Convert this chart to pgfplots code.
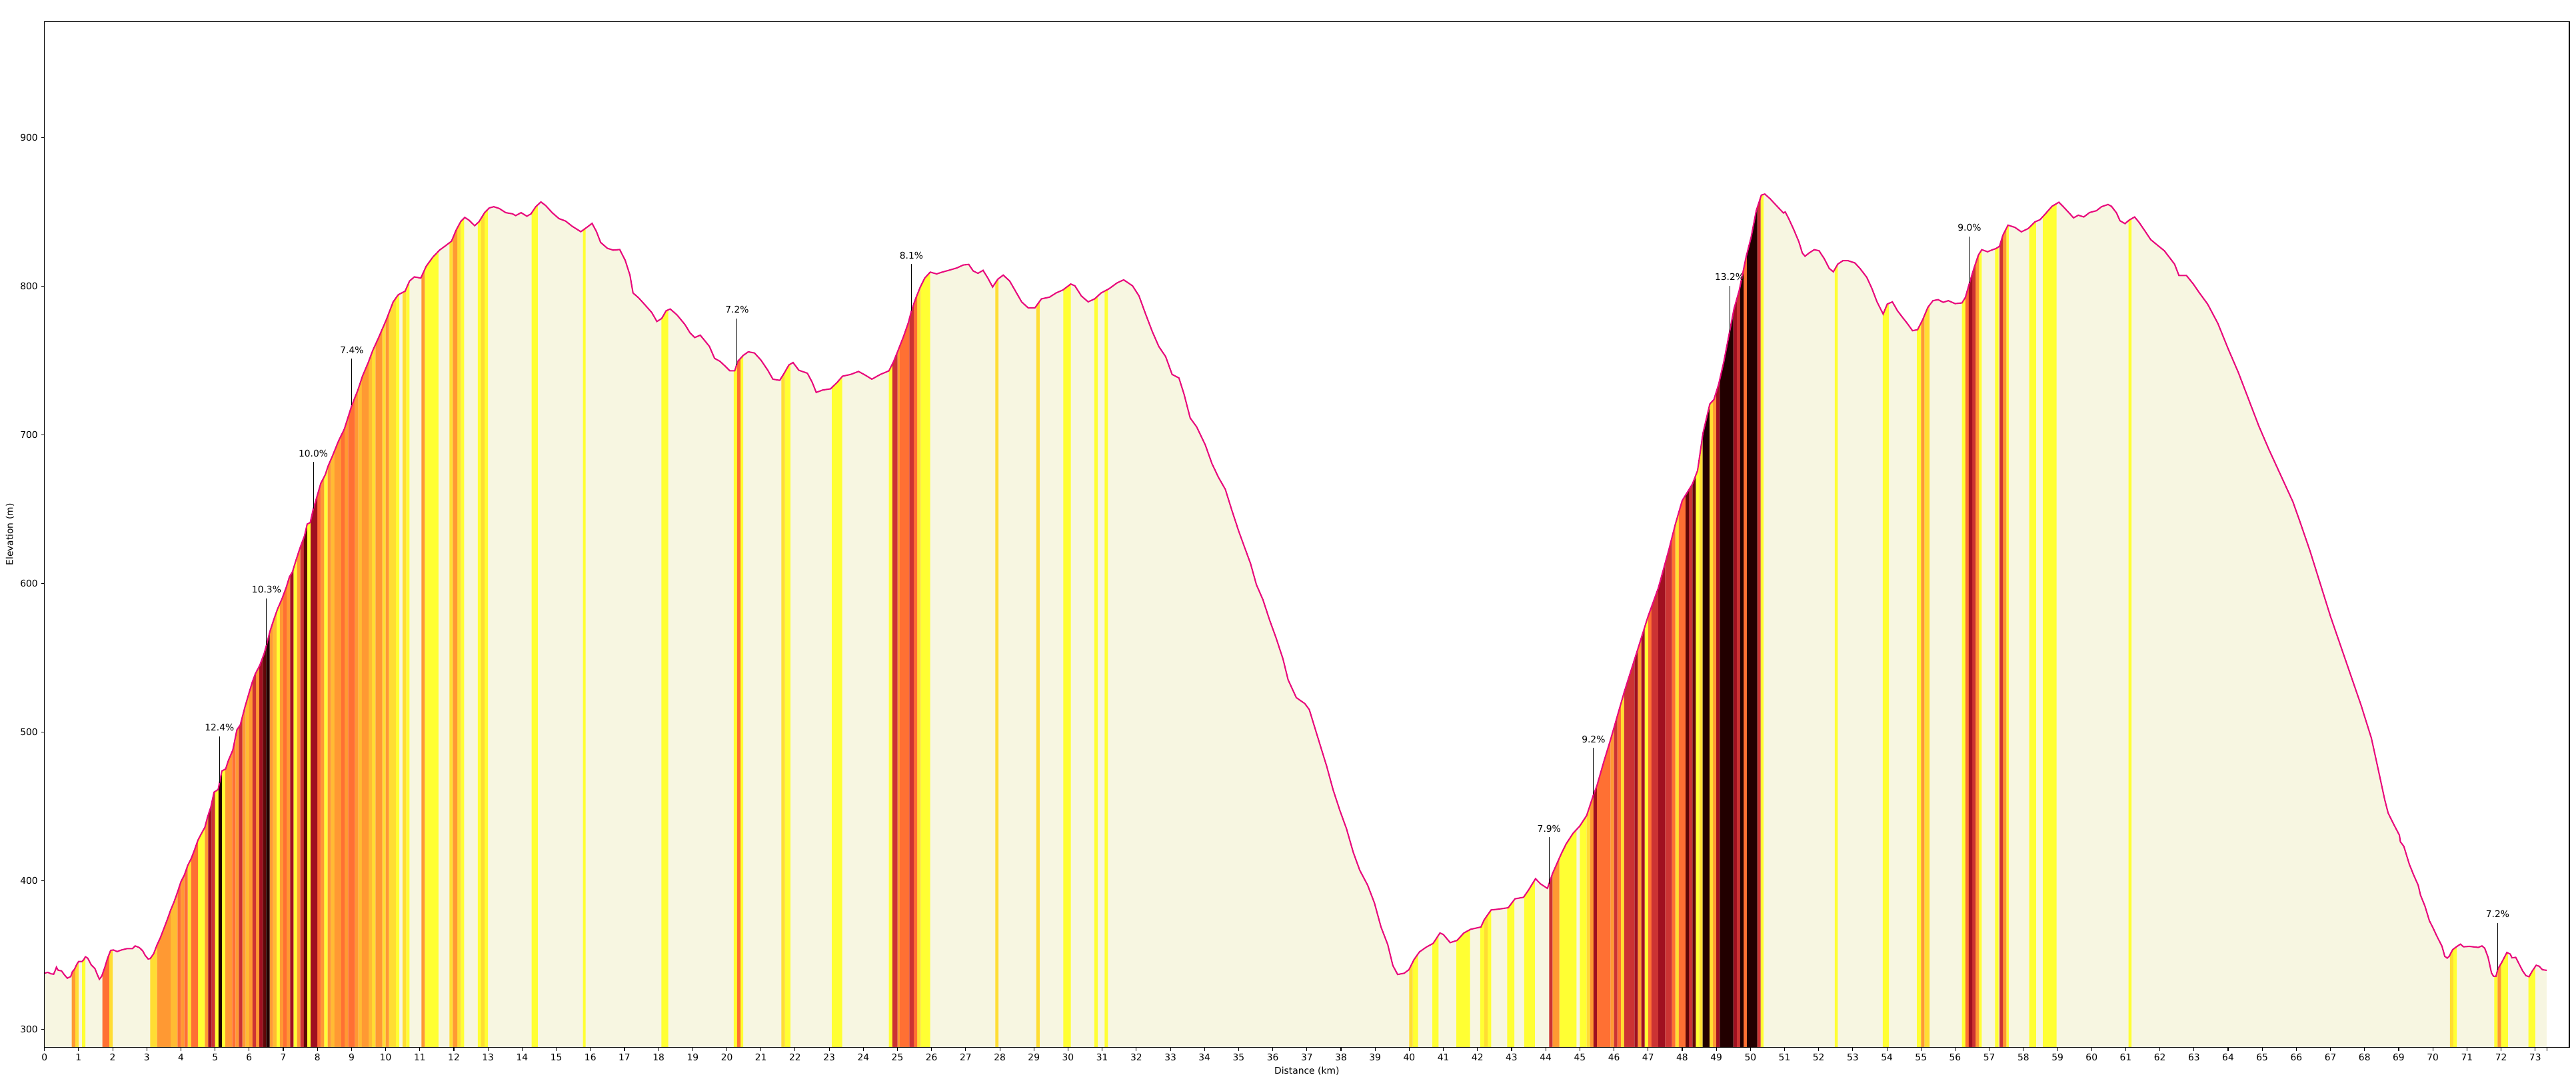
\documentclass[border=0pt]{standalone}
\usepackage{pgfplots}
\pgfplotsset{compat=1.18}
\usepackage{pgfplotstable}
\usepackage{fontspec}
\setmainfont{DejaVu Sans}
\definecolor{cBeige}{HTML}{F7F6E1}
\definecolor{cY}{HTML}{FFFF33}
\definecolor{cG}{HTML}{FFDD33}
\definecolor{cLO}{HTML}{FFBB33}
\definecolor{cO}{HTML}{FF9933}
\definecolor{cRO}{HTML}{FF7033}
\definecolor{cR}{HTML}{CC3333}
\definecolor{cDR}{HTML}{A01020}
\definecolor{cVD}{HTML}{600808}
\definecolor{cK}{HTML}{220000}
\definecolor{cLine}{HTML}{E8087C}

\pgfplotstableread{
x y
0.00 338
0.10 338.5
0.20 337.5
0.27 337.3
0.32 340
0.35 342
0.40 340
0.50 339.5
0.58 337
0.67 334.6
0.77 335.7
0.82 339
0.88 340.6
0.95 344
1.00 345.8
1.10 345.8
1.15 347
1.20 349
1.27 348
1.37 343.6
1.48 341
1.55 337
1.61 333.9
1.68 336
1.77 342
1.85 348
1.94 353.3
2.02 353.6
2.13 352.5
2.26 353.6
2.42 354.5
2.58 354.5
2.66 356.3
2.78 355.2
2.88 353
2.95 350
3.04 347.5
3.10 347.8
3.20 351
3.30 357
3.40 362
3.50 368
3.60 374
3.70 380.5
3.80 386
3.90 392.5
4.00 399.5
4.10 404
4.20 410.5
4.30 415
4.40 421
4.50 427.5
4.61 432.3
4.70 436
4.78 443
4.88 450
4.97 459.7
5.09 461.5
5.13 466
5.20 474
5.31 475.3
5.39 481
5.52 488
5.64 501.6
5.74 505
5.87 516.5
6.00 526.8
6.09 533.6
6.18 539.3
6.31 545
6.44 553
6.51 558.8
6.61 568
6.74 577
6.83 582.8
6.96 589.7
7.09 597.7
7.18 604.5
7.27 608
7.36 614.8
7.49 624
7.62 632
7.70 640
7.79 641.1
7.88 650.3
7.97 657.2
8.10 667.5
8.23 673.2
8.31 678.9
8.44 685.8
8.62 696
8.79 704
9.01 720
9.19 730.4
9.32 739.5
9.49 748.7
9.62 756.7
9.80 765.8
10.02 777.5
10.22 789.5
10.37 794.3
10.57 796.7
10.70 803.5
10.84 806.3
11.03 805.5
11.19 813.5
11.38 819.5
11.58 824.3
11.77 827.5
11.93 830.3
12.06 837.5
12.20 843.5
12.32 846.3
12.45 844.3
12.61 840.7
12.74 843.5
12.90 849.5
13.04 852.7
13.17 853.5
13.33 852.3
13.52 849.5
13.72 848.7
13.81 847.5
13.97 849.5
14.14 847.1
14.26 848.7
14.40 853.5
14.55 856.7
14.69 854.3
14.88 849.5
15.08 845.5
15.27 843.9
15.47 840.3
15.72 836.7
15.89 839.5
16.05 842.3
16.18 836.7
16.30 829.5
16.50 825.5
16.67 824.3
16.86 824.7
17.02 817.5
17.16 807.5
17.25 795.5
17.41 792.3
17.60 787.5
17.80 782.3
17.95 776.3
18.09 778.3
18.22 783.5
18.34 784.7
18.54 780.7
18.77 774.3
18.92 768.7
19.06 765.5
19.22 767.1
19.35 763.5
19.49 759.5
19.64 751.5
19.80 749.5
19.93 746.7
20.09 743.1
20.23 743.1
20.32 749.5
20.48 753.5
20.63 755.9
20.81 755.1
21.00 750.3
21.20 743.5
21.35 737.5
21.55 736.7
21.68 741.5
21.82 747.1
21.94 748.7
22.11 743.5
22.36 741.5
22.50 735.5
22.62 728.6
22.81 730.2
23.04 731
23.24 735.5
23.39 739.5
23.63 740.7
23.86 742.7
24.05 740.3
24.25 737.5
24.50 740.7
24.75 743.1
24.89 749.5
25.03 757.5
25.18 766.3
25.32 775.5
25.41 783.5
25.53 791.5
25.67 799.5
25.80 805.5
25.96 809.5
26.15 808.3
26.31 809.5
26.50 810.7
26.74 812.3
26.93 814.3
27.09 814.7
27.22 810.3
27.36 808.7
27.51 810.7
27.65 805.5
27.79 799.5
27.94 804.7
28.10 807.5
28.29 803.5
28.49 795.5
28.64 789.5
28.83 785.5
29.03 785.5
29.22 791.5
29.46 792.7
29.65 795.5
29.85 797.5
30.08 801.5
30.20 800.3
30.39 793.5
30.59 789.5
30.78 791.5
30.97 795.5
31.20 798.3
31.44 802.3
31.63 804.3
31.89 800.3
32.08 793.5
32.27 781.5
32.47 769.5
32.66 759.5
32.86 752.7
33.05 740.7
33.25 738.3
33.40 727.4
33.58 711.4
33.77 705.4
34.02 693.4
34.22 680.6
34.41 671.4
34.61 663.4
34.80 649.4
35.00 635.4
35.19 623.4
35.35 613.4
35.52 599.3
35.71 589.3
35.91 575.3
36.10 563.3
36.30 549.3
36.45 535.3
36.69 523.3
36.94 519.3
37.07 515.3
37.23 503.3
37.39 491.3
37.58 477.2
37.77 461.2
37.97 447.2
38.16 435.2
38.36 419.2
38.55 407.2
38.78 397.2
38.98 385.2
39.17 369.2
39.37 357.2
39.52 343.1
39.66 337.1
39.85 337.9
39.99 340.3
40.14 347.1
40.30 352.3
40.50 355.5
40.70 358
40.90 365
41.00 364
41.20 358.5
41.40 360
41.60 365
41.80 367.5
42.00 368.5
42.10 369
42.20 374
42.40 380.5
42.60 381
42.90 382
43.00 385
43.10 388
43.35 389
43.50 394
43.70 401.5
43.85 398
44.05 395
44.20 405
44.45 418
44.60 425
44.80 432
45.00 437
45.20 444
45.40 458
45.50 464
45.70 480
45.90 495
46.00 503
46.30 527
46.70 556
47.00 578
47.30 597
47.60 622
47.80 640
48.00 655.8
48.30 667
48.45 676
48.61 701.3
48.81 720.8
48.93 723.8
49.07 734.2
49.22 749.2
49.37 767.1
49.52 785
49.67 797
49.87 819.4
50.02 832.9
50.17 850.8
50.32 861.3
50.42 862
50.57 859
50.72 855.3
50.87 851.6
50.97 849.3
51.02 850
51.12 845.6
51.27 838.1
51.42 829.9
51.52 822.4
51.60 820.2
51.72 822.4
51.87 824.6
52.01 823.9
52.16 818.7
52.31 812
52.43 809.7
52.56 814.9
52.71 817.2
52.86 817.2
53.06 815.7
53.21 812
53.41 806
53.56 798.5
53.71 789.5
53.89 781.3
54.01 788
54.16 789.5
54.31 783.5
54.46 779
54.61 774.6
54.75 770.1
54.90 770.8
55.05 777.6
55.20 785.8
55.35 790.3
55.50 791
55.65 789.2
55.80 790.3
56.00 788.3
56.20 788.8
56.30 792.5
56.42 802.2
56.55 812
56.68 820.9
56.78 824.6
56.95 823.2
57.10 824.6
57.20 825.4
57.30 826.9
57.40 834.4
57.55 841.1
57.75 839.6
57.94 836.6
58.14 838.8
58.34 843.3
58.49 844.8
58.64 848.6
58.84 853.8
59.04 856.5
59.19 853
59.34 849.3
59.47 846
59.61 847.8
59.77 846.6
59.94 849.6
60.14 850.8
60.29 853.5
60.48 855
60.58 853.8
60.73 849.3
60.83 844.1
60.98 842.1
61.10 844.5
61.26 846.6
61.38 843.3
61.58 836.6
61.73 831.4
61.93 827.6
62.13 823.9
62.28 819.4
62.43 814.9
62.56 807.2
62.78 807.2
62.98 801.5
63.16 795.5
63.40 788
63.70 775
64.00 758
64.30 742
64.60 724
64.90 706
65.20 690
65.50 675
65.70 665
65.90 655
66.10 642
66.40 622
66.70 600
67.00 578
67.30 558
67.60 538
67.90 518
68.20 496
68.40 475
68.59 454.7
68.69 445.7
68.85 438.3
69.02 430.8
69.05 426.3
69.15 423.3
69.31 411.3
69.44 403.9
69.57 397.2
69.64 390.4
69.77 383
69.90 373.2
70.00 368.7
70.12 362.8
70.27 356.0
70.35 349.3
70.42 348.1
70.48 349.3
70.58 353.8
70.71 356.0
70.81 357.5
70.90 355.7
71.07 356
71.33 355.3
71.44 356.3
71.52 354.8
71.62 348.6
71.72 338.1
71.78 335.9
71.85 335.9
71.91 341.1
72.01 344.8
72.09 348.3
72.17 351.9
72.27 350.8
72.32 348.3
72.43 348.6
72.53 344.1
72.63 339.6
72.73 336.3
72.82 335.6
72.92 339.6
73.03 343.3
73.12 342.6
73.21 340.3
73.34 339.9
}\profile

\newcommand{\annot}[3]{%
  \draw[black, line width=0.7pt] (axis cs:#1,#2) -- ++(0,0.70in);
  \node[font=\fontsize{10}{12}\selectfont, inner sep=0pt, anchor=center, yshift=0.83in] at (axis cs:#1,#2) {#3};}

\begin{document}
\begin{tikzpicture}
\path[use as bounding box] (-0.667in,-0.533in) rectangle (37.983in,15.717in);
\begin{axis}[
  scale only axis, width=37.883in, height=15.394in,
  xmin=0, xmax=74, ymin=288, ymax=978,
  axis on top,
  xtick={0,1,...,73}, ytick={300,400,...,900},
  extra x ticks={73.34}, extra x tick labels={},
  xtick pos=bottom, ytick pos=left,
  tick align=outside, major tick length=3.5pt,
  tick style={line width=0.8pt, black},
  axis line style={line width=0.8pt},
  /pgf/number format/assume math mode=true,
  tick label style={font=\fontsize{10}{12}\selectfont},
  xticklabel style={inner sep=0pt}, yticklabel style={inner sep=0pt},
  xticklabel shift=3.5pt, yticklabel shift=3.5pt,
  xlabel={Distance (km)}, ylabel={Elevation (m)},
  label style={font=\fontsize{10}{12}\selectfont},
  xlabel style={at={(axis description cs:0.5,-0.0229)}, anchor=center},
  ylabel style={at={(axis description cs:-0.01365,0.5)}, anchor=center},
]
% base
\addplot[ybar interval, fill=cBeige, draw=none] coordinates {(0,1000) (73.34,1000)};
% stripes by gradient class
\addplot[ybar interval, fill=cY, draw=none] coordinates {
(1.1,1000)(1.2,0)(4.5,1000)(4.7,0)(5.0,1000)(5.1,0)(5.2,1000)(5.3,0)(6.8,1000)(6.9,0)
(7.3,1000)(7.4,0)(7.7,1000)(7.8,0)(8.2,1000)(8.3,0)(10.3,1000)(10.4,0)(10.6,1000)(10.7,0)
(11.15,1000)(11.55,0)(12.2,1000)(12.3,0)(12.7,1000)(12.8,0)(12.9,1000)(13.0,0)
(14.28,1000)(14.46,0)(15.78,1000)(15.86,0)(18.08,1000)(18.28,0)(20.2,1000)(20.3,0)
(20.4,1000)(20.48,0)(21.7,1000)(21.86,0)(23.08,1000)(23.38,0)(24.75,1000)(24.85,0)
(25.68,1000)(25.96,0)(29.86,1000)(30.08,0)(30.77,1000)(30.87,0)(31.07,1000)(31.17,0)
(40.1,1000)(40.26,0)(40.68,1000)(40.86,0)(41.38,1000)(41.78,0)(42.08,1000)(42.2,0)
(42.3,1000)(42.4,0)(42.87,1000)(43.08,0)(43.37,1000)(43.68,0)(44.4,1000)(44.9,0)
(45.0,1000)(45.2,0)(46.9,1000)(47.0,0)(48.4,1000)(48.5,0)(50.3,1000)(50.38,0)
(52.47,1000)(52.56,0)(53.88,1000)(54.06,0)(54.88,1000)(55.0,0)(56.2,1000)(56.3,0)
(56.7,1000)(56.78,0)(57.17,1000)(57.27,0)(57.5,1000)(57.57,0)(58.17,1000)(58.37,0)
(58.57,1000)(58.97,0)(61.08,1000)(61.17,0)(70.6,1000)(70.7,0)(71.8,1000)(71.9,0)
(72.0,1000)(72.2,0)(72.8,1000)(73.0,0)};
\addplot[ybar interval, fill=cG, draw=none] coordinates {
(0.9,1000)(1.0,0)(1.9,1000)(2.0,0)(3.1,1000)(3.3,0)(4.2,1000)(4.3,0)(9.6,1000)(9.7,0)
(9.9,1000)(10.0,0)(10.1,1000)(10.3,0)(10.5,1000)(10.6,0)(11.87,1000)(11.97,0)
(12.1,1000)(12.2,0)(12.8,1000)(12.9,0)(21.6,1000)(21.7,0)(25.58,1000)(25.68,0)
(27.87,1000)(27.96,0)(29.07,1000)(29.17,0)(40.0,1000)(40.1,0)(42.2,1000)(42.3,0)
(45.2,1000)(45.3,0)(46.2,1000)(46.3,0)(47.8,1000)(47.9,0)(48.5,1000)(48.6,0)
(48.8,1000)(48.9,0)(55.1,1000)(55.25,0)(70.5,1000)(70.6,0)};
\addplot[ybar interval, fill=cLO, draw=none] coordinates {
(3.7,1000)(3.9,0)(5.9,1000)(6.0,0)(6.7,1000)(6.8,0)(8.4,1000)(8.5,0)(9.2,1000)(9.3,0)
(9.5,1000)(9.6,0)};
\addplot[ybar interval, fill=cO, draw=none] coordinates {
(0.8,1000)(0.9,0)(3.3,1000)(3.7,0)(4.0,1000)(4.1,0)(4.7,1000)(4.8,0)(5.3,1000)(5.5,0)
(5.6,1000)(5.7,0)(5.8,1000)(5.9,0)(6.0,1000)(6.1,0)(6.2,1000)(6.3,0)(6.6,1000)(6.7,0)
(6.9,1000)(7.0,0)(7.1,1000)(7.2,0)(7.4,1000)(7.5,0)(8.1,1000)(8.2,0)(8.3,1000)(8.4,0)
(8.5,1000)(8.7,0)(8.8,1000)(8.9,0)(9.1,1000)(9.2,0)(9.3,1000)(9.5,0)(9.7,1000)(9.9,0)
(10.0,1000)(10.1,0)(11.05,1000)(11.15,0)(11.97,1000)(12.1,0)(25.0,1000)(25.07,0)
(44.2,1000)(44.4,0)(45.3,1000)(45.4,0)(45.9,1000)(46.0,0)(46.7,1000)(46.8,0)
(48.9,1000)(49.0,0)(55.0,1000)(55.1,0)(56.6,1000)(56.7,0)(57.4,1000)(57.5,0)
(71.9,1000)(72.0,0)};
\addplot[ybar interval, fill=cRO, draw=none] coordinates {
(1.7,1000)(1.9,0)(3.9,1000)(4.0,0)(4.1,1000)(4.2,0)(4.3,1000)(4.5,0)(5.5,1000)(5.6,0)
(7.0,1000)(7.1,0)(8.0,1000)(8.1,0)(8.7,1000)(8.8,0)(8.9,1000)(9.1,0)(20.3,1000)(20.4,0)
(25.07,1000)(25.35,0)(25.48,1000)(25.58,0)(45.5,1000)(45.9,0)(46.1,1000)(46.2,0)
(47.0,1000)(47.1,0)(47.7,1000)(47.8,0)(47.9,1000)(48.1,0)(49.8,1000)(49.9,0)
(56.3,1000)(56.4,0)};
\addplot[ybar interval, fill=cR, draw=none] coordinates {
(4.9,1000)(5.0,0)(5.7,1000)(5.8,0)(6.1,1000)(6.2,0)(7.5,1000)(7.6,0)(24.85,1000)(25.0,0)
(25.35,1000)(25.48,0)(44.1,1000)(44.2,0)(46.0,1000)(46.1,0)(46.3,1000)(46.6,0)
(47.1,1000)(47.3,0)(47.5,1000)(47.7,0)(48.2,1000)(48.3,0)(49.6,1000)(49.7,0)
(50.2,1000)(50.3,0)(56.5,1000)(56.6,0)(57.3,1000)(57.4,0)};
\addplot[ybar interval, fill=cDR, draw=none] coordinates {
(4.8,1000)(4.9,0)(6.3,1000)(6.4,0)(7.2,1000)(7.3,0)(7.8,1000)(8.0,0)(45.4,1000)(45.5,0)
(46.6,1000)(46.7,0)(46.8,1000)(46.9,0)(47.3,1000)(47.5,0)(49.0,1000)(49.1,0)
(49.5,1000)(49.6,0)(56.4,1000)(56.5,0)};
\addplot[ybar interval, fill=cVD, draw=none] coordinates {
(6.4,1000)(6.5,0)(7.6,1000)(7.7,0)(48.1,1000)(48.2,0)(48.3,1000)(48.4,0)};
\addplot[ybar interval, fill=cK, draw=none] coordinates {
(5.1,1000)(5.2,0)(6.5,1000)(6.6,0)(48.6,1000)(48.8,0)(49.1,1000)(49.5,0)(49.7,1000)(49.8,0)
(49.9,1000)(50.2,0)};
% white mask above the profile
\addplot[fill=white, draw=none] table[x=x,y=y] {\profile} -- (axis cs:73.34,1000) -- (axis cs:0,1000) -- cycle;
% profile line
\addplot[cLine, line width=1.5pt, mark=none] table[x=x,y=y] {\profile};
% annotations
\annot{5.13}{466}{12.4\%}
\annot{6.51}{558.8}{10.3\%}
\annot{7.88}{650.3}{10.0\%}
\annot{9.01}{720}{7.4\%}
\annot{20.3}{747}{7.2\%}
\annot{25.41}{783.5}{8.1\%}
\annot{44.1}{398}{7.9\%}
\annot{45.4}{458}{9.2\%}
\annot{49.39}{769}{13.2\%}
\annot{56.42}{802.2}{9.0\%}
\annot{71.9}{340.5}{7.2\%}
\end{axis}
\end{tikzpicture}
\end{document}
